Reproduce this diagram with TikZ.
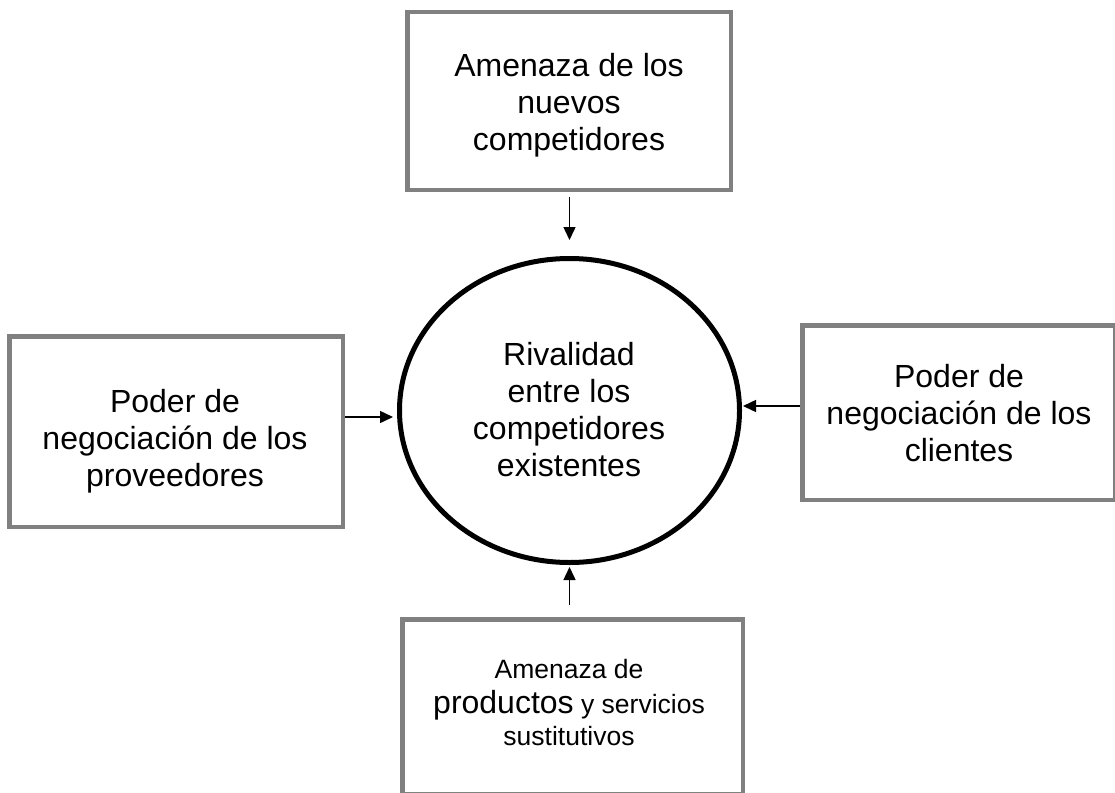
\documentclass[tikz,border=0pt]{standalone}
\usepackage{fontspec}
\setmainfont{Liberation Sans}
\usetikzlibrary{arrows.meta,shapes.geometric}
\begin{document}
\begin{tikzpicture}[x=1pt,y=-1pt,
  forcebox/.style={draw=black!50,line width=4.5pt,rectangle,inner sep=0pt},
  boxtext/.style={align=center,inner sep=0pt,font=\fontsize{32}{37}\selectfont},
  smalltext/.style={align=center,inner sep=0pt,font=\fontsize{26.5}{32}\selectfont},
  rivalry/.style={draw=black,line width=5pt,ellipse,inner sep=0pt},
  arr/.style={line width=1.5pt,-{Triangle[length=13pt,width=12pt]}}]
\useasboundingbox (0,0) rectangle (1115,792);
\clip (0,0) rectangle (1115,792);
\fill[white] (0,0) rectangle (1115,792);
% shapes
\node[rivalry,minimum width=340pt,minimum height=304pt] (circ) at (569.5,410.5) {};
\node[forcebox,minimum width=323.5pt,minimum height=177.5pt] (top) at (569,101) {};
\node[forcebox,minimum width=333.5pt,minimum height=190.5pt] (lft) at (176,431.5) {};
\node[forcebox,minimum width=312.5pt,minimum height=174.5pt] (rgt) at (958.5,412.5) {};
\node[forcebox,minimum width=340.5pt,minimum height=174.5pt] (bot) at (572.5,706.5) {};
% texts
\node[boxtext] (circtext) at (569,410) {Rivalidad\\entre los\\competidores\\existentes};
\node[boxtext] (toptext) at (569,105) {Amenaza de los\\nuevos\\competidores};
\node[boxtext] (lfttext) at (175,441) {Poder de\\negociación de los\\proveedores};
\node[boxtext] (rgttext) at (959,413) {Poder de\\negociación de los\\clientes};
\node[smalltext] (bottext) at (569,702.5)
  {Amenaza de\\[3pt]{\fontsize{32}{32}\selectfont productos} y servicios\\sustitutivos};
% connectors
\draw[arr,shorten <=5pt,shorten >=16pt] (top.south -| circ.north) -- (circ.north);
\draw[arr,shorten >=4pt] ([yshift=-6.5pt]lft.east |- circ.center) -- ([yshift=-6.5pt]circ.west);
\draw[arr,shorten >=1pt] ([yshift=4.5pt]rgt.west |- circ.center) -- ([yshift=4.5pt]circ.east);
\draw[arr,shorten <=12pt,shorten >=2pt] (bot.north -| circ.south) -- (circ.south);
\end{tikzpicture}
\end{document}
